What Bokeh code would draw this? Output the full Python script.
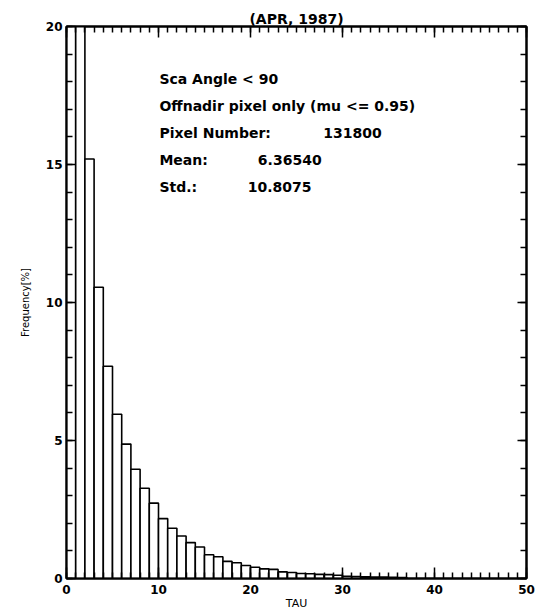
from bokeh.plotting import figure
from bokeh.models import Range1d, LinearAxis, SingleIntervalTicker, ColumnDataSource, CustomJSTickFormatter
from bokeh.core.properties import value
from bokeh.embed import file_html
from bokeh.resources import INLINE

# ---- data ----
bin_left = list(range(37))
frequency = [23.5, 21.0, 15.2, 10.55, 7.69, 5.95, 4.87, 3.96, 3.27, 2.73,
             2.17, 1.82, 1.54, 1.30, 1.14, 0.86, 0.79, 0.62, 0.57, 0.47,
             0.41, 0.35, 0.33, 0.24, 0.22, 0.18, 0.17, 0.15, 0.14, 0.12,
             0.08, 0.07, 0.06, 0.05, 0.05, 0.04, 0.03]
bin_width = 1.0
title_text = "(APR, 1987)"
x_title = "TAU"
y_title = "Frequency[%]"
info_labels = ["Sca Angle < 90", "Offnadir pixel only (mu <= 0.95)",
               "Pixel Number:", "Mean:", "Std.:"]
info_values = ["131800", "6.36540", "10.8075"]

FONT = "DejaVu Sans"

src = ColumnDataSource(dict(
    left=bin_left,
    right=[b + bin_width for b in bin_left],
    bottom=[0] * len(bin_left),
    top=frequency,
))

p = figure(width=546, height=612, output_backend="svg", toolbar_location=None,
           x_range=Range1d(0, 50), y_range=Range1d(0, 20),
           x_axis_location=None, y_axis_location=None)
p.min_border_left = 66
p.min_border_right = 20
p.min_border_top = 26
p.min_border_bottom = 34
p.background_fill_color = "white"
p.border_fill_color = "white"
p.outline_line_color = "black"
p.outline_line_width = 2
p.xgrid.visible = False
p.ygrid.visible = False

p.title.text = title_text
p.title.align = "center"
p.title.text_font = FONT
p.title.text_font_size = "14px"
p.title.text_font_style = "bold"
p.title.text_color = "black"
p.title.standoff = 0
p.title.offset = 0

p.quad(left="left", right="right", bottom="bottom", top="top", source=src,
       fill_color="white", line_color="black", line_width=1.6)

blank = CustomJSTickFormatter(code="return ''")


def style_axis(ax, ticker, major_len, minor_len, show_labels):
    ax.ticker = ticker
    ax.axis_line_color = "black"
    ax.axis_line_width = 2
    ax.major_tick_in = major_len
    ax.major_tick_out = 0
    ax.minor_tick_in = minor_len
    ax.minor_tick_out = 0
    ax.major_tick_line_color = "black"
    ax.major_tick_line_width = 1.5
    ax.minor_tick_line_color = "black"
    ax.minor_tick_line_width = 1.5
    ax.major_label_text_font = FONT
    ax.major_label_text_color = "black"
    ax.major_label_text_font_size = "12px"
    ax.major_label_text_font_style = "bold"
    if not show_labels:
        ax.formatter = blank
        ax.major_label_standoff = 0


xb = LinearAxis(axis_label=x_title)
style_axis(xb, SingleIntervalTicker(interval=10, num_minor_ticks=10), 11, 6, True)
xb.major_label_standoff = 6
xb.axis_label_standoff = 0
xb.axis_label_text_font = FONT
xb.axis_label_text_font_size = "11px"
xb.axis_label_text_font_style = "normal"
xb.axis_label_text_color = "black"
p.add_layout(xb, "below")

xt = LinearAxis()
style_axis(xt, SingleIntervalTicker(interval=10, num_minor_ticks=10), 11, 6, False)
p.add_layout(xt, "above")

yl = LinearAxis(axis_label=y_title)
style_axis(yl, SingleIntervalTicker(interval=5, num_minor_ticks=5), 9, 6, True)
yl.major_label_standoff = 4
yl.axis_label_standoff = 12
yl.axis_label_text_font = FONT
yl.axis_label_text_font_size = "10px"
yl.axis_label_text_font_style = "normal"
yl.axis_label_text_color = "black"
p.add_layout(yl, "left")

yr = LinearAxis()
style_axis(yr, SingleIntervalTicker(interval=5, num_minor_ticks=5), 9, 6, False)
p.add_layout(yr, "right")

# info text block
label_y = [18.1, 17.12, 16.14, 15.16, 14.18]
p.text(x=[10.1] * 5, y=label_y, text=info_labels,
       text_font=value(FONT), text_font_size="14px", text_font_style="bold",
       text_color="black", text_baseline="middle", text_align="left")
p.text(x=[27.9, 20.8, 19.7], y=label_y[2:], text=info_values,
       text_font=value(FONT), text_font_size="14px", text_font_style="bold",
       text_color="black", text_baseline="middle", text_align="left")

open("out.html", "w").write(file_html(p, INLINE))
